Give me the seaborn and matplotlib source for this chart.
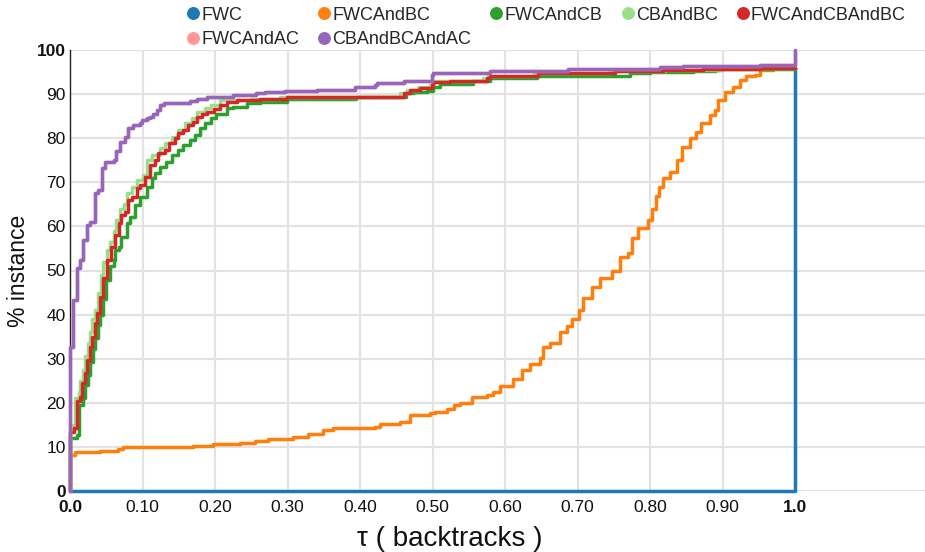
import numpy as np
import pandas as pd
import matplotlib
matplotlib.use("Agg")
import matplotlib.pyplot as plt
import seaborn as sns
from matplotlib.lines import Line2D

# ---------------- data ----------------
series_names = ["FWC", "FWCAndBC", "FWCAndCB", "CBAndBC",
                "FWCAndCBAndBC", "FWCAndAC", "CBAndBCAndAC"]
series_colors = ["#1f77b4", "#ff7f0e", "#2ca02c", "#98df8a",
                 "#d62728", "#ff9896", "#9467bd"]

fwc_x = [0.0, 1.0, 1.0]
fwc_y = [0.0, 0.0, 96.0]

fwcbc_x = [0.0, 0.0, 0.007, 0.041, 0.066, 0.073, 0.17, 0.197, 0.234, 0.255,
           0.273, 0.308, 0.328, 0.349, 0.363, 0.421, 0.428, 0.455, 0.469, 0.497,
           0.503, 0.52, 0.529, 0.538, 0.554, 0.575, 0.583, 0.593, 0.611, 0.623,
           0.634, 0.648, 0.652, 0.662, 0.676, 0.686, 0.692, 0.702, 0.708, 0.72,
           0.731, 0.747, 0.759, 0.77, 0.775, 0.784, 0.797, 0.803, 0.808, 0.813,
           0.818, 0.828, 0.837, 0.844, 0.855, 0.864, 0.871, 0.883, 0.89, 0.894,
           0.903, 0.915, 0.924, 0.933, 0.945, 0.952, 0.97, 1.0]
fwcbc_y = [0.0, 8.2, 8.9, 9.1, 9.5, 9.9, 10.2, 10.6, 10.9, 11.4,
           11.8, 12.3, 13.0, 13.8, 14.2, 14.6, 15.3, 15.7, 17.2, 17.6,
           18.0, 18.7, 19.5, 20.0, 21.3, 21.7, 22.5, 23.9, 25.4, 27.4,
           28.8, 30.2, 32.7, 33.5, 36.0, 37.5, 39.0, 41.0, 43.7, 46.3,
           48.3, 50.0, 53.0, 54.0, 57.4, 59.6, 61.5, 64.0, 67.0, 69.0,
           71.0, 72.3, 75.0, 78.0, 80.0, 81.5, 83.4, 85.3, 86.4, 88.7,
           90.5, 91.7, 93.2, 94.0, 94.3, 95.5, 95.9, 95.9]

fwccb_x = [0.0, 0.0, 0.009, 0.013, 0.018, 0.02, 0.025, 0.027, 0.032, 0.034,
           0.038, 0.041, 0.045, 0.05, 0.055, 0.06, 0.062, 0.067, 0.071, 0.078,
           0.083, 0.09, 0.097, 0.106, 0.113, 0.117, 0.124, 0.133, 0.14, 0.149,
           0.156, 0.166, 0.172, 0.179, 0.186, 0.195, 0.202, 0.216, 0.225, 0.244,
           0.262, 0.299, 0.322, 0.395, 0.464, 0.473, 0.492, 0.501, 0.51, 0.556,
           0.579, 0.644, 0.772, 0.8, 0.859, 0.89, 0.897, 1.0]
fwccb_y = [0.0, 12.0, 12.7, 19.5, 21.0, 24.0, 26.3, 29.3, 32.3, 34.7,
           37.7, 40.0, 43.5, 47.8, 51.0, 52.4, 54.6, 55.4, 57.7, 60.7,
           62.2, 64.9, 66.7, 69.0, 70.9, 72.0, 73.5, 74.7, 76.2, 77.3,
           78.5, 79.6, 80.7, 82.2, 83.4, 84.5, 85.6, 86.8, 87.1, 87.9,
           88.1, 88.8, 89.0, 89.4, 90.2, 90.5, 90.8, 91.7, 92.2, 93.0,
           93.7, 94.2, 94.8, 95.0, 95.2, 95.5, 95.7, 96.0]

cbbc_x = [0.0, 0.0, 0.004, 0.007, 0.012, 0.014, 0.018, 0.021, 0.025, 0.028,
          0.031, 0.035, 0.038, 0.043, 0.046, 0.051, 0.055, 0.06, 0.064, 0.069,
          0.074, 0.078, 0.085, 0.092, 0.101, 0.106, 0.113, 0.124, 0.131, 0.14,
          0.149, 0.159, 0.168, 0.175, 0.186, 0.195, 0.207, 0.25, 0.29, 0.455,
          0.465, 0.48, 0.497, 0.5, 0.57, 0.576, 0.64, 0.745, 0.82, 0.9, 1.0]
cbbc_y = [0.0, 14.0, 15.0, 21.0, 22.5, 25.0, 27.5, 30.5, 33.5, 36.0,
          39.0, 41.0, 45.0, 49.0, 52.0, 54.6, 56.5, 59.0, 61.5, 64.0,
          65.0, 67.5, 69.0, 70.5, 71.7, 75.0, 76.2, 77.7, 78.8, 80.3,
          81.9, 83.4, 84.5, 86.0, 86.8, 87.5, 88.7, 89.0, 89.4, 90.2,
          90.9, 91.5, 92.3, 93.0, 93.7, 94.2, 94.7, 95.3, 95.5, 95.9, 96.0]

fwccbbc_x = [0.0, 0.0, 0.006, 0.009, 0.014, 0.016, 0.021, 0.023, 0.028, 0.03,
             0.034, 0.037, 0.041, 0.046, 0.051, 0.057, 0.062, 0.067, 0.071, 0.076,
             0.08, 0.085, 0.092, 0.097, 0.103, 0.11, 0.117, 0.122, 0.131, 0.136,
             0.145, 0.149, 0.156, 0.163, 0.17, 0.175, 0.182, 0.189, 0.198, 0.207,
             0.216, 0.23, 0.262, 0.299, 0.46, 0.469, 0.483, 0.499, 0.501, 0.524,
             0.575, 0.579, 0.646, 0.752, 0.818, 0.873, 0.9, 0.952, 1.0]
fwccbbc_y = [0.0, 13.4, 14.2, 20.3, 21.4, 24.4, 26.7, 29.7, 32.7, 35.0,
             38.0, 40.3, 44.0, 48.2, 52.4, 55.4, 58.0, 60.7, 62.6, 63.3,
             66.0, 66.7, 68.6, 69.4, 71.3, 73.9, 75.0, 76.6, 77.3, 78.8,
             80.0, 81.1, 81.9, 83.0, 83.7, 84.9, 85.6, 86.0, 86.6, 87.5,
             88.3, 88.7, 89.0, 89.4, 90.2, 90.9, 91.3, 92.0, 92.8, 93.0,
             93.6, 94.1, 94.7, 95.3, 95.5, 95.7, 95.8, 96.0, 96.0]

cbbcac_x = [0.0, 0.0, 0.0046, 0.009, 0.014, 0.018, 0.023, 0.028, 0.034, 0.039,
            0.044, 0.048, 0.06, 0.064, 0.069, 0.076, 0.08, 0.087, 0.097, 0.099,
            0.106, 0.11, 0.115, 0.12, 0.124, 0.129, 0.166, 0.175, 0.189, 0.2,
            0.225, 0.257, 0.269, 0.297, 0.34, 0.393, 0.421, 0.423, 0.46, 0.471,
            0.499, 0.501, 0.579, 0.687, 0.706, 0.814, 0.846, 0.952, 1.0]
cbbcac_y = [0.0, 32.7, 43.3, 50.5, 52.4, 56.9, 60.3, 61.0, 67.5, 68.3,
            73.2, 74.7, 75.0, 77.0, 79.2, 80.3, 82.2, 83.0, 83.4, 84.1,
            84.5, 84.9, 85.6, 86.4, 87.5, 88.0, 88.5, 89.0, 89.3, 89.4,
            89.8, 90.2, 90.4, 90.7, 90.9, 91.5, 92.1, 92.5, 92.9, 93.0,
            94.3, 94.7, 95.3, 95.6, 95.8, 96.1, 96.4, 96.6, 100.0]

# FWCAndAC coincides with CBAndBCAndAC (hidden beneath it in the reference)
fwcac_x = list(cbbcac_x)
fwcac_y = list(cbbcac_y)

x_tick_values = [0.0, 0.1, 0.2, 0.3, 0.4, 0.5, 0.6, 0.7, 0.8, 0.9, 1.0]
x_tick_labels = ["0.0", "0.10", "0.20", "0.30", "0.40", "0.50",
                 "0.60", "0.70", "0.80", "0.90", "1.0"]
y_tick_values = [0, 10, 20, 30, 40, 50, 60, 70, 80, 90, 100]
y_tick_labels = ["0", "10", "20", "30", "40", "50", "60", "70", "80", "90", "100"]

# ---------------- build table ----------------
series_xy = {
    "FWC": (fwc_x, fwc_y),
    "FWCAndBC": (fwcbc_x, fwcbc_y),
    "FWCAndCB": (fwccb_x, fwccb_y),
    "CBAndBC": (cbbc_x, cbbc_y),
    "FWCAndCBAndBC": (fwccbbc_x, fwccbbc_y),
    "FWCAndAC": (fwcac_x, fwcac_y),
    "CBAndBCAndAC": (cbbcac_x, cbbcac_y),
}
frames = []
for name in series_names:
    xs, ys = series_xy[name]
    frames.append(pd.DataFrame({"tau": xs, "pct": ys, "series": name}))
df = pd.concat(frames, ignore_index=True)

# ---------------- style ----------------
sns.set_theme(style="white")
plt.rcParams["font.family"] = ["Liberation Sans", "DejaVu Sans"]

fig = plt.figure(figsize=(9.25, 5.52), dpi=100)
ax = fig.add_axes([70 / 925, 61 / 552, 855 / 925, 441 / 552])

sns.lineplot(data=df, x="tau", y="pct", hue="series", hue_order=series_names,
             palette=series_colors, estimator=None, sort=False,
             drawstyle="steps-post", linewidth=2.5, legend=False, ax=ax,
             clip_on=False, zorder=3)

ax.set_xlim(0, 855 / 725)
ax.set_ylim(0, 100)
ax.set_xticks(x_tick_values)
ax.set_xticklabels(x_tick_labels)
ax.set_yticks(y_tick_values)
ax.set_yticklabels(y_tick_labels)
ax.tick_params(axis="both", length=0, labelsize=12.5, labelcolor="#111111")
ax.tick_params(axis="x", pad=6.5)
ax.tick_params(axis="y", pad=3)
for lbl in ax.get_xticklabels():
    if lbl.get_text() in ("0.0", "1.0"):
        lbl.set_fontweight("bold")
for lbl in ax.get_yticklabels():
    if lbl.get_text() in ("0", "100"):
        lbl.set_fontweight("bold")

ax.grid(True, color="#e2e2e2", linewidth=1.5)
ax.set_axisbelow(True)
for s in ("top", "right", "bottom"):
    ax.spines[s].set_visible(False)
ax.spines["left"].set_color("#222222")
ax.spines["left"].set_linewidth(1.0)
ax.spines["left"].set_zorder(2.5)

ax.set_xlabel("τ ( backtracks )", fontsize=20, color="#111111")
ax.xaxis.set_label_coords((450 - 70) / 855, -0.08)
ax.set_ylabel("% instance", fontsize=16.5, color="#111111")
ax.yaxis.set_label_coords(-0.047, 0.5)

# legend: two rows, entries in reference order
color_of = dict(zip(series_names, series_colors))
leg_order = ["FWC", "FWCAndAC", "FWCAndBC", "CBAndBCAndAC",
             "FWCAndCB", "CBAndBC", "FWCAndCBAndBC"]
handles = [Line2D([], [], marker="o", linestyle="", markersize=8.3,
                  color=color_of[n]) for n in leg_order]
fig.legend(handles, leg_order, ncol=5, loc="upper left",
           bbox_to_anchor=(186 / 925, 1.0 - 4 / 552), frameon=False, fontsize=13,
           handlelength=0.5, handletextpad=0.2, columnspacing=1.14,
           borderaxespad=0.0, borderpad=0.15, labelspacing=0.42)

fig.savefig("out.png", dpi=100)
